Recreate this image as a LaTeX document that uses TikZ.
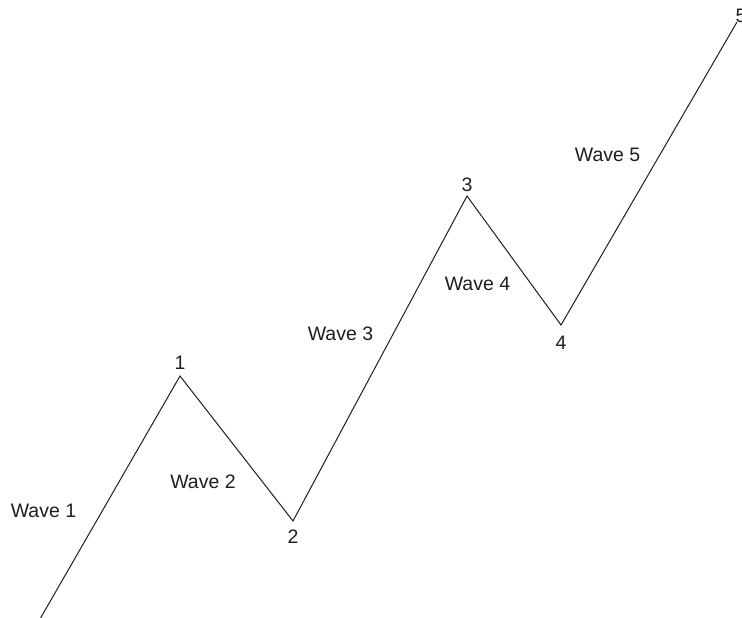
\documentclass[tikz,border=0pt]{standalone}
\usepackage{fontspec}
\setmainfont{Liberation Sans}
\definecolor{ink}{HTML}{1E1E1E}
\begin{document}
\begin{tikzpicture}[x=1pt,y=-1pt,
  lbl/.style={anchor=base,inner sep=0pt,outer sep=0pt,text=ink,font=\fontsize{19.5}{23}\selectfont},
  wave/.style={draw=ink,line width=1pt,line join=miter}]
\useasboundingbox (0,0) rectangle (742,618);
\clip (0,0) rectangle (742,618);
\coordinate (p0) at (40,619);
\coordinate (p1) at (180,376);
\coordinate (p2) at (293,521);
\coordinate (p3) at (467,196);
\coordinate (p4) at (561,325);
\coordinate (p5) at (737,22);
\draw[wave] (p0) -- (p1) -- (p2) -- (p3) -- (p4) -- (p5);
\node[lbl] (n1) at (180,369) {1};
\node[lbl] (n2) at (293,543) {2};
\node[lbl] (n3) at (467,191) {3};
\node[lbl] (n4) at (561,349) {4};
\node[lbl] (n5) at (741,23) {5};
\node[lbl] (w1) at (43.5,517) {Wave 1};
\node[lbl] (w2) at (203,488) {Wave 2};
\node[lbl] (w3) at (340.5,340) {Wave 3};
\node[lbl] (w4) at (477.5,290) {Wave 4};
\node[lbl] (w5) at (607.5,161) {Wave 5};
\end{tikzpicture}
\end{document}
